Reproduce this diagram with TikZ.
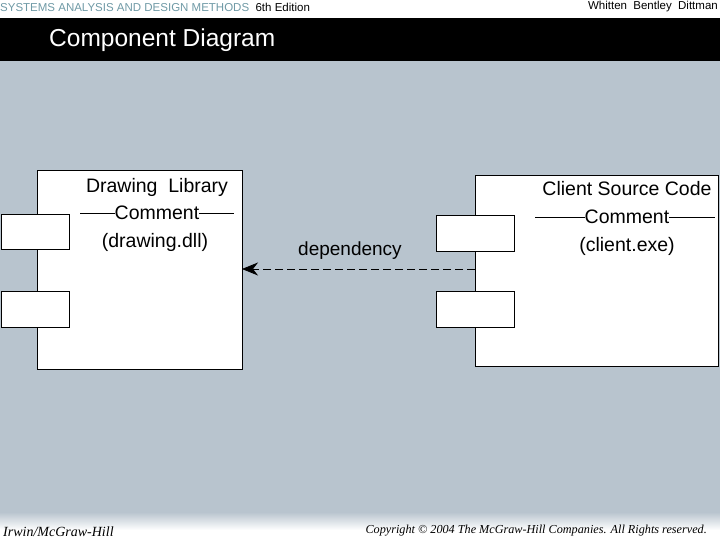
\documentclass[tikz,border=0pt]{standalone}
\usepackage{fontspec}
\setmainfont{Liberation Sans}
\newfontfamily\serifit{Liberation Serif}
\usetikzlibrary{arrows.meta}
\definecolor{bg}{HTML}{B8C4CE}
\definecolor{hdr}{HTML}{6F9AA6}
\begin{document}
\begin{tikzpicture}[x=1pt,y=-1pt,
  box/.style={draw=black,fill=white,line width=0.8pt},
  lbl/.style={font=\fontsize{19.5}{22}\selectfont,inner sep=0pt}]
\useasboundingbox (0,0) rectangle (720,540);
\fill[white] (0,0) rectangle (720,18);
\fill[black] (0,18) rectangle (720,61);
\fill[bg] (0,61) rectangle (720,516);
\shade[top color=bg,bottom color=white] (0,512) rectangle (720,530);
\fill[white] (0,530) rectangle (720,540);
\node[anchor=west,inner sep=0pt,text=hdr,font=\fontsize{11.5}{13}\selectfont] (h1) at (0,7) {SYSTEMS ANALYSIS AND DESIGN METHODS\ \ \textcolor{black}{6th Edition}};
\node[anchor=east,inner sep=0pt,font=\fontsize{11.5}{13}\selectfont] (h2) at (718,7) {Whitten\ \ Bentley\ \ Dittman};
\node[anchor=west,inner sep=0pt,text=white,font=\fontsize{24.5}{28}\selectfont] (title) at (49,40) {Component Diagram};
\node[anchor=west,inner sep=0pt,font=\serifit\itshape\fontsize{14}{16}\selectfont] (f1) at (3,532) {Irwin/McGraw-Hill};
\node[anchor=east,inner sep=0pt,font=\serifit\itshape\fontsize{12.2}{14}\selectfont] (f2) at (707,531) {Copyright © 2004 The McGraw-Hill Companies. All Rights reserved.};
% left component
\draw[box] (37,170) rectangle (242,369);
\coordinate (Lw) at (242,269);
\draw[box] (1,214) rectangle (69,249);
\draw[box] (1,291) rectangle (69,327);
\node[lbl] (l1) at (157,187) {Drawing\ \ Library};
\node[lbl] (l2) at (157,213) {Comment};
\draw[line width=0.6pt] (80,0 |- l2) -- (l2.west) (l2.east) -- (234,0 |- l2);
\node[lbl] (l3) at (155,242) {(drawing.dll)};
% right component
\draw[box] (475,175) rectangle (718,366);
\coordinate (Re) at (475,269);
\draw[box] (436,215) rectangle (514,251);
\draw[box] (436,291) rectangle (514,327);
\node[lbl] (r1) at (627,189) {Client Source Code};
\node[lbl] (r2) at (627,217) {Comment};
\draw[line width=0.6pt] (535,0 |- r2) -- (r2.west) (r2.east) -- (715,0 |- r2);
\node[lbl] (r3) at (627,246) {(client.exe)};
\draw[dashed,dash pattern=on 8pt off 4pt,line width=0.8pt,-{Stealth[length=16pt,width=13pt,inset=5pt]}] (Re) -- (Lw);
\node[lbl,font=\fontsize{19}{22}\selectfont] (dep) at (350,251) {dependency};
\end{tikzpicture}
\end{document}
